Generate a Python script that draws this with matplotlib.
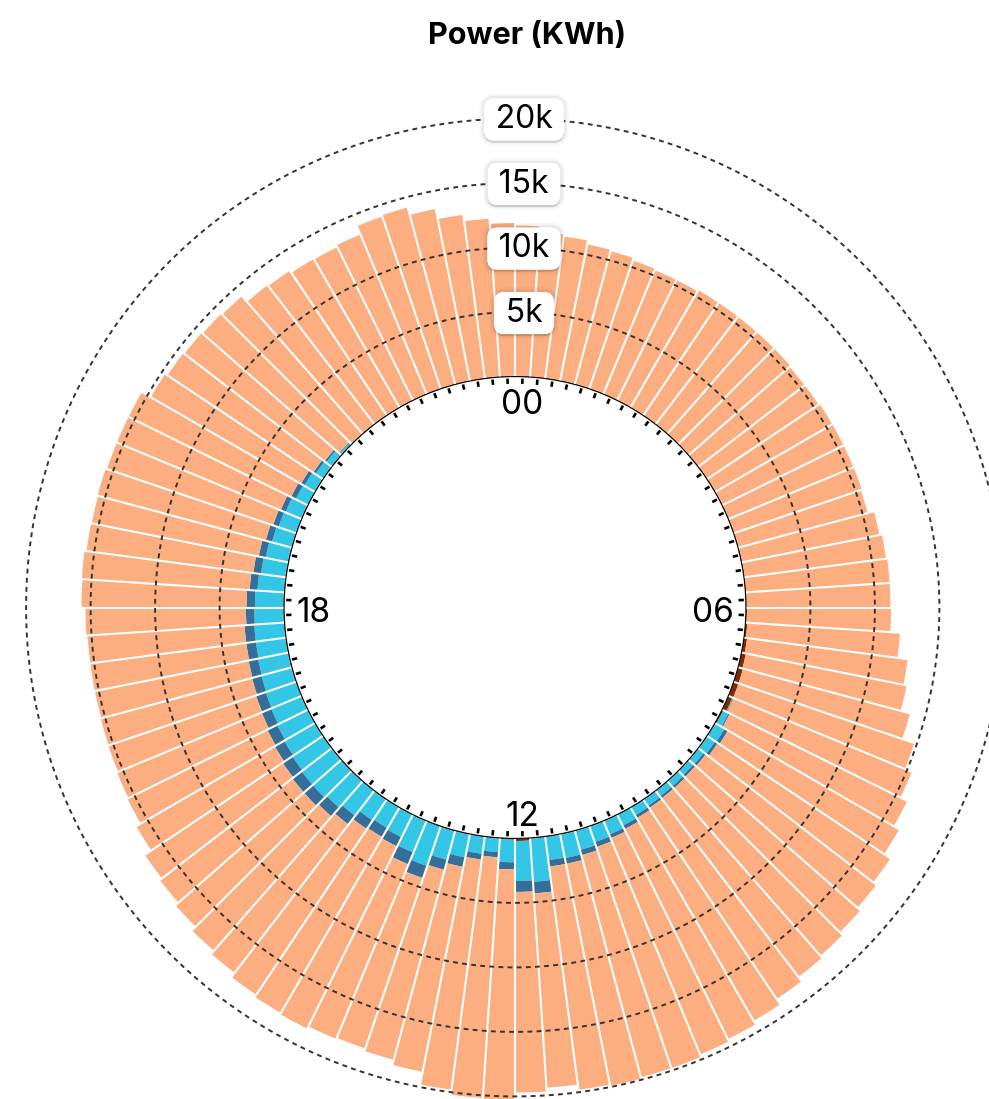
import numpy as np
import matplotlib.pyplot as plt
import matplotlib.patheffects as pe

plt.rcParams['font.family'] = ['Inter', 'DejaVu Sans']

# 96 quarter-hour slots, clockwise from 00:00 at the top (kWh)
N_SLOTS = 96
HOUR_LABELS = ['00', '06', '12', '18']
HOUR_SLOTS = [0, 24, 48, 72]
RING_VALUES = [5000, 10000, 15000, 20000]
RING_LABELS = ['5k', '10k', '15k', '20k']

# stacked from the inner edge outwards
brown = [60, 60, 60, 60, 60, 60, 60, 60, 60, 60, 60, 60,
         60, 60, 60, 60, 60, 60, 60, 60, 60, 60, 60, 60,
         80, 150, 250, 350, 400, 400, 350, 120, 60, 60, 60, 60,
         60, 60, 60, 60, 60, 60, 60, 60, 60, 60, 60, 200,
         100, 60, 60, 60, 60, 60, 60, 60, 60, 60, 60, 60,
         60, 60, 60, 60, 60, 60, 60, 60, 60, 60, 60, 60,
         60, 60, 60, 60, 60, 60, 60, 60, 60, 60, 60, 60,
         60, 60, 60, 60, 60, 60, 60, 60, 60, 60, 60, 60]

cyan = [0, 0, 0, 0, 0, 0, 0, 0, 0, 0, 0, 0,
        0, 0, 0, 0, 0, 0, 0, 0, 0, 0, 0, 0,
        0, 0, 0, 0, 0, 0, 50, 450, 800, 700, 500, 450,
        500, 500, 550, 650, 900, 1100, 1250, 1500, 1850, 1800, 3350, 3100,
        1750, 1050, 1300, 1800, 2300, 3200, 2600, 1900, 1800, 1900, 2400, 2700,
        2900, 2900, 2800, 2700, 2600, 2500, 2450, 2400, 2350, 2300, 2300, 2250,
        2200, 2050, 1900, 1750, 1550, 1400, 1300, 1000, 900, 650, 500, 150,
        0, 0, 0, 0, 0, 0, 0, 0, 0, 0, 0, 0]

navy = [0, 0, 0, 0, 0, 0, 0, 0, 0, 0, 0, 0,
        0, 0, 0, 0, 0, 0, 0, 0, 0, 0, 0, 0,
        0, 0, 0, 0, 0, 0, 50, 100, 300, 250, 200, 200,
        200, 200, 200, 250, 300, 300, 400, 420, 450, 500, 900, 850,
        550, 400, 450, 750, 800, 1000, 1000, 800, 800, 800, 850, 900,
        900, 900, 900, 850, 850, 800, 800, 750, 750, 750, 750, 650,
        650, 600, 600, 550, 500, 450, 400, 400, 300, 200, 150, 50,
        0, 0, 0, 0, 0, 0, 0, 0, 0, 0, 0, 0]

# outer edge of each bar (salmon segment fills the rest)
total = [11700, 11250, 11100, 10800, 10700, 10500, 10400, 10400, 10500, 10500,
         10500, 10500, 10500, 10400, 10400, 10500, 10500, 10500, 10500, 10400,
         10900, 11100, 11200, 11200, 11250, 12000, 12800, 13050, 13800, 14800,
         15400, 16000, 16500, 17100, 17400, 17700, 18000, 18200, 18600, 19100,
         19400, 19600, 19800, 19800, 19900, 19800, 19400, 19700, 20400, 20200,
         19800, 18800, 18400, 18200, 18300, 18500, 18400, 18200, 17800, 17500,
         17100, 16800, 16600, 16000, 15600, 15500, 15400, 15350, 15300, 15300,
         15300, 15400, 15700, 15750, 15600, 15550, 15600, 15500, 15500, 15500,
         14700, 14500, 14400, 14300, 14200, 13600, 13500, 13300, 13250, 13400,
         14100, 14200, 13600, 12800, 12300, 11900]

C_BROWN = '#7F2B00'
C_CYAN = '#34C6E6'
C_NAVY = '#346E99'
C_SALMON = '#FDAE80'

W, H = 989, 1099
CX, CY = 515, 607.5
PX_PER_UNIT = 12.9 / 1000.0
R_HOLE = 17900        # data units hidden inside the hole
R_MAX = 21000
rpx = (R_HOLE + R_MAX) * PX_PER_UNIT

fig = plt.figure(figsize=(W / 100, H / 100), dpi=100)
ax = fig.add_axes([(CX - rpx) / W, (H - CY - rpx) / H, 2 * rpx / W, 2 * rpx / H],
                  projection='polar')
ax.set_theta_zero_location('N')
ax.set_theta_direction(-1)
ax.set_ylim(0, R_MAX)
ax.set_rorigin(-R_HOLE)
ax.set_xticks([])
ax.set_yticks([])
ax.grid(False)
for sp in ax.spines.values():
    sp.set_visible(False)
ax.patch.set_visible(False)

width = 2 * np.pi / N_SLOTS
theta = (np.arange(N_SLOTS) + 0.5) * width

bottom = np.zeros(N_SLOTS)
for vals, col in [(brown, C_BROWN), (cyan, C_CYAN), (navy, C_NAVY)]:
    vals = np.array(vals, dtype=float)
    ax.bar(theta, vals, width=width, bottom=bottom, color=col, linewidth=0, zorder=1)
    bottom += vals
ax.bar(theta, np.array(total) - bottom, width=width, bottom=bottom,
       color=C_SALMON, linewidth=0, zorder=1)

# white gaps between the slots
for k in range(N_SLOTS):
    top = max(total[k - 1], total[k])
    ax.plot([k * width, k * width], [0, top], color='white', lw=1.5,
            solid_capstyle='butt', zorder=2)

# small ticks inside the hole
for t in theta:
    ax.plot([t, t], [-150, -560], color='black', lw=1.9, clip_on=False,
            solid_capstyle='butt', zorder=3)

# dashed rings
ring_t = np.linspace(0, 2 * np.pi, 721)
for v in RING_VALUES:
    ax.plot(ring_t, np.full_like(ring_t, v), color='#333333', lw=1.4,
            ls=(0, (2.5, 2.2)), zorder=3)

for v, lab in zip(RING_VALUES, RING_LABELS):
    t = ax.annotate('\u2009' + lab + '\u2009', xy=(0, v), xytext=(9, -1),
                    textcoords='offset pixels', ha='center', va='center',
                    fontsize=23, zorder=5, annotation_clip=False,
                    bbox=dict(boxstyle='round,pad=0.17,rounding_size=0.3',
                              fc='white', ec='none'))
    t.get_bbox_patch().set_path_effects(
        [pe.Stroke(linewidth=7, foreground='black', alpha=0.03),
         pe.Stroke(linewidth=4, foreground='black', alpha=0.05),
         pe.withSimplePatchShadow(offset=(0, -1.5), shadow_rgbFace='black', alpha=0.12),
         pe.Normal()])

# alignment and small pixel nudge of each hour label
placement = {'00': ('center', 'top', (7, 0)),
             '06': ('right', 'center', (0, -6)),
             '12': ('center', 'baseline', (7, 0)),
             '18': ('left', 'center', (0, -6))}
for lab, slot in zip(HOUR_LABELS, HOUR_SLOTS):
    ha, va, off = placement[lab]
    ax.annotate(lab, xy=(slot * width, -930), xytext=off,
                textcoords='offset pixels', ha=ha, va=va, fontsize=24,
                zorder=5, annotation_clip=False)

fig.text(527 / W, 1 - 36 / H, 'Power (KWh)', ha='center', va='center',
         fontsize=22, fontweight='bold')

fig.savefig('out.png', dpi=100)
